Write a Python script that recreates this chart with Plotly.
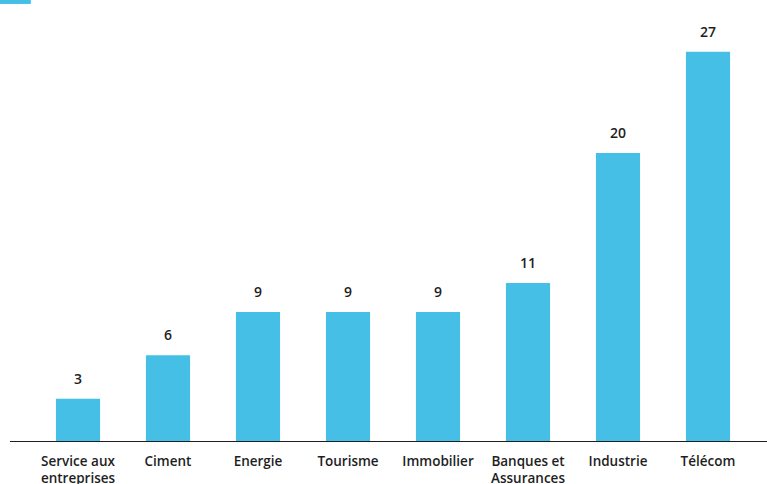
import plotly.graph_objects as go

# Sector shares (%)
sectors = ["Service aux<br>entreprises", "Ciment", "Energie", "Tourisme",
           "Immobilier", "Banques et<br>Assurances", "Industrie", "Télécom"]
shares = [3, 6, 9, 9, 9, 11, 20, 27]

BLUE = "#46BFE7"
INK = "#1e1e1e"
FONT = "Open Sans"

fig = go.Figure(
    go.Bar(
        x=sectors,
        y=shares,
        marker=dict(color=BLUE, line=dict(width=0)),
        width=0.49,
        showlegend=False,
        hoverinfo="skip",
    )
)

# value labels above each bar
for s, v in zip(sectors, shares):
    fig.add_annotation(
        x=s, y=v, text=str(v), showarrow=False,
        yanchor="bottom", yshift=9,
        font=dict(family=FONT, size=14, color=INK, weight=600),
    )

# baseline running almost edge to edge
fig.add_shape(
    type="line", xref="paper", yref="y",
    x0=-0.032, x1=1.02, y0=0, y1=0,
    line=dict(color=INK, width=2),
)

# small legend swatch in the top-left corner
fig.add_shape(
    type="rect", xref="paper", yref="paper",
    x0=-0.046, x1=-0.003, y0=1.038, y1=1.06,
    fillcolor=BLUE, line=dict(width=0), layer="above",
)

fig.update_layout(
    width=767, height=484,
    margin=dict(l=33, r=14, t=20, b=42),
    paper_bgcolor="white", plot_bgcolor="white",
    bargap=0.5,
    xaxis=dict(
        showgrid=False, zeroline=False, showline=False,
        ticks="", ticklabelstandoff=9, automargin=False,
        tickfont=dict(family=FONT, size=13.5, color=INK, weight=600),
    ),
    yaxis=dict(
        range=[0, 29.2], visible=False, showgrid=False, zeroline=False,
        automargin=False,
    ),
)

fig.write_html("out.html")
